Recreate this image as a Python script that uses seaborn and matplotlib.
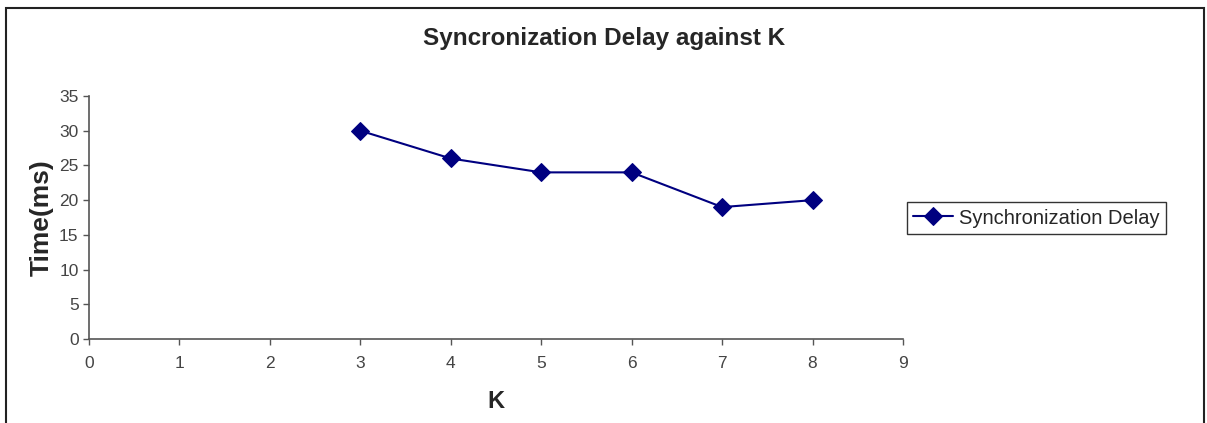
import matplotlib
matplotlib.use('Agg')
import matplotlib.pyplot as plt
import matplotlib.patches as mpatches
import pandas as pd
import seaborn as sns

k_values = [3, 4, 5, 6, 7, 8]
delay_ms = [30, 26, 24, 24, 19, 20]
series_name = 'Synchronization Delay'

df = pd.DataFrame({'K': k_values, 'Time(ms)': delay_ms})

sns.set_style('white')
plt.rcParams['font.family'] = ['Liberation Sans', 'DejaVu Sans']

fig = plt.figure(figsize=(12.07, 4.23), dpi=100)
ax = fig.add_axes([89 / 1207, 1 - 339 / 423, (903 - 89) / 1207, (339 - 96) / 423])

navy = '#000080'
sns.lineplot(data=df, x='K', y='Time(ms)', ax=ax, color=navy, marker='D',
             markersize=9, markeredgecolor=navy, linewidth=1.5, label=series_name)

ax.set_xlim(0, 9)
ax.set_ylim(0, 35)
ax.set_xticks(range(0, 10))
ax.set_yticks(range(0, 36, 5))
ax.tick_params(axis='both', direction='out', length=4, width=1, color='#555555',
               labelsize=12.5, labelcolor='#444444', left=True, bottom=True)
ax.tick_params(axis='x', pad=8)
for side in ['top', 'right']:
    ax.spines[side].set_visible(False)
for side in ['left', 'bottom']:
    ax.spines[side].set_color('#555555')
    ax.spines[side].set_linewidth(1.2)

ax.set_xlabel('K', fontsize=17, fontweight='bold', labelpad=14)
ax.set_ylabel('Time(ms)', fontsize=19, fontweight='bold', labelpad=4)
fig.text(604 / 1207, 1 - 39 / 423, 'Syncronization Delay against K',
         ha='center', va='center', fontsize=17.5, fontweight='bold')

leg = ax.legend(loc='center left', bbox_to_anchor=(907 / 1207, 1 - 218 / 423),
                bbox_transform=fig.transFigure, frameon=True, fancybox=False,
                fontsize=14.5, handlelength=2.0, borderpad=0.3, handletextpad=0.3,
                borderaxespad=0)
leg.get_frame().set_edgecolor('black')
leg.get_frame().set_linewidth(1)

border = mpatches.Rectangle((6 / 1207, -0.02), (1204 - 6) / 1207, 1 - 8 / 423 + 0.02,
                            transform=fig.transFigure, fill=False, edgecolor='#222222',
                            linewidth=1.5)
fig.patches.append(border)

fig.savefig('out.png', dpi=100)
